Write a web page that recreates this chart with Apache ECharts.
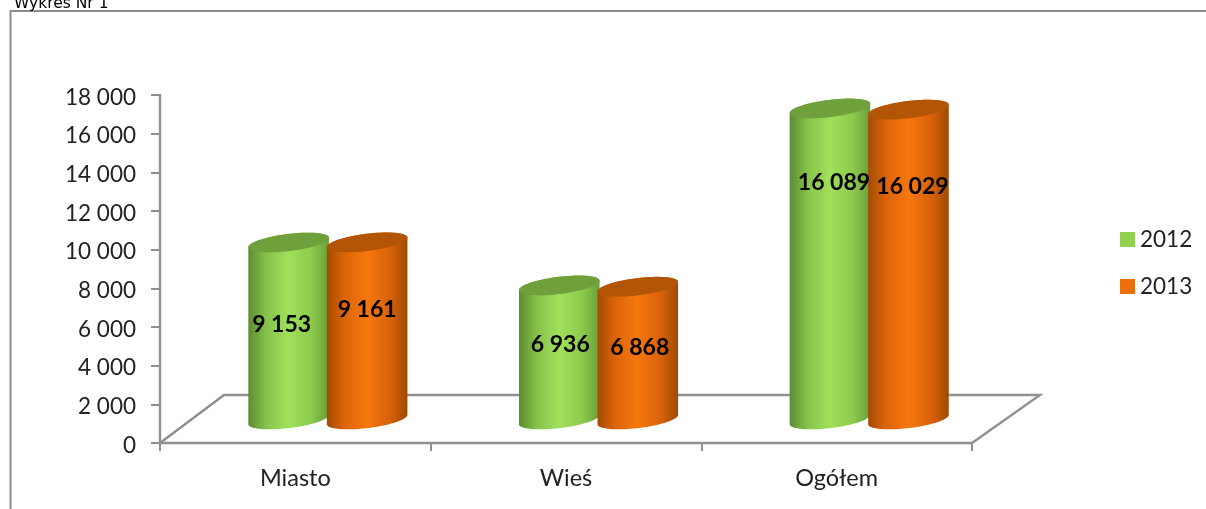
<!DOCTYPE html>
<html><head><meta charset="utf-8">
<style>html,body{margin:0;padding:0;background:#fff}#c{width:1206px;height:509px}</style>
<script src="https://cdn.jsdelivr.net/npm/echarts@6/dist/echarts.min.js"></script>
</head><body><div id="c"></div>
<script>
const categories = ['Miasto', 'Wieś', 'Ogółem'];
const seriesNames = ['2012', '2013'];
const values2012 = [9153, 6936, 16089];
const values2013 = [9161, 6868, 16029];

const FONT = 'Lato, "Open Sans", sans-serif';
const DEPTH_X = 32, DEPTH_Y = -23.5;      // projected floor offset of the bars
const fmt = v => String(v).replace(/\B(?=(\d{3})+$)/g, ' ');

const looks = {
  '2012': { swatch: '#92d14f', top: '#70a03c', side: -0.143,
    stops: ['#5d8c30', '#86c24a', '#a0e05a', '#8ccb4c', '#6a9e38'],
    labelShift: [[-7, -6], [1, -8], [4, -81]] },
  '2013': { swatch: '#ed6d0b', top: '#b25504', side: 0.147,
    stops: ['#a34c04', '#dd6409', '#f6770e', '#d9620a', '#a04a03'],
    labelShift: [[0, -21], [2, -6], [4, -78]] }
};

function ellipsePts(cx, cy, rx, ry, tilt, a0, a1, n) {
  const pts = [], c = Math.cos(tilt), s = Math.sin(tilt);
  for (let i = 0; i <= n; i++) {
    const t = a0 + (a1 - a0) * i / n;
    const ex = rx * Math.cos(t), ey = ry * Math.sin(t);
    pts.push([cx + ex * c + ey * s, cy - ex * s + ey * c]);
  }
  return pts;
}

function cylinder(look) {
  return function (params, api) {
    const p = api.coord([api.value(0), api.value(1)]);
    const base = api.coord([api.value(0), 0]);
    const band = api.size([1, 0])[0];
    const cx = p[0] + DEPTH_X + band * look.side;
    const topY = p[1] + DEPTH_Y, baseY = base[1] + DEPTH_Y;
    const rx = band * 0.15, ry = 8.6, tilt = 7 * Math.PI / 180;
    const body = ellipsePts(cx, baseY, rx, ry, tilt, 0, Math.PI, 48)
      .concat(ellipsePts(cx, topY, rx, ry, tilt, Math.PI, 2 * Math.PI, 48));
    const n = look.stops.length - 1;
    const fill = new echarts.graphic.LinearGradient(0, 0, 1, 0,
      [0, 0.22, 0.5, 0.78, 1].map((o, i) => ({ offset: o, color: look.stops[Math.min(i, n)] })));
    const shift = look.labelShift[params.dataIndex];
    return {
      type: 'group',
      children: [
        { type: 'polygon', shape: { points: body }, style: { fill: fill } },
        { type: 'polygon', shape: { points: ellipsePts(cx, topY, rx, ry, tilt, 0, 2 * Math.PI, 72) },
          style: { fill: look.top } },
        { type: 'text', z2: 10, style: {
            text: fmt(api.value(1)),
            x: cx + shift[0], y: (topY + baseY) / 2 + shift[1],
            align: 'center', verticalAlign: 'middle',
            fill: '#000', font: 'bold 23px ' + FONT } }
      ]
    };
  };
}

function barSeries(name, vals) {
  const look = looks[name];
  return {
    name: name, type: 'custom', clip: false, z: 3,
    itemStyle: { color: look.swatch },
    encode: { x: 0, y: 1 },
    data: vals.map((v, i) => [i, v]),
    renderItem: cylinder(look)
  };
}

const floorSeries = {
  name: 'floor', type: 'custom', clip: false, z: 1, silent: true,
  data: [[0, 0]],
  renderItem: function (params) {
    const g = params.coordSys, bottom = g.y + g.height, right = g.x + g.width;
    return {
      type: 'polyline',
      shape: { points: [[g.x, bottom], [g.x + 64, bottom - 48], [right + 68, bottom - 48], [right, bottom]] },
      style: { stroke: '#909090', lineWidth: 2.4, fill: null }
    };
  }
};

const chart = echarts.init(document.getElementById('c'), null, { renderer: 'canvas' });
chart.setOption({
  animation: false,
  backgroundColor: '#fff',
  title: { text: 'Wykres Nr 1', left: 9, top: -9,
    textStyle: { fontFamily: '"DejaVu Sans"', fontSize: 15.5, fontWeight: 'normal', color: '#000' } },
  graphic: [{ type: 'polyline', silent: true,
    shape: { points: [[10.5, 509], [10.5, 11], [1206, 11]] },
    style: { stroke: '#8c8c8c', lineWidth: 2, fill: null } }],
  legend: { data: seriesNames, orient: 'vertical', left: 1115, top: 223, icon: 'rect',
    itemWidth: 15, itemHeight: 15, itemGap: 24,
    textStyle: { fontFamily: FONT, fontSize: 22.5, color: '#222' } },
  grid: { left: 160, top: 95, width: 812, height: 348 },
  xAxis: { type: 'category', data: categories, boundaryGap: true,
    axisLine: { lineStyle: { color: '#909090', width: 2.4 } },
    axisTick: { show: true, length: 8, lineStyle: { color: '#909090', width: 2 } },
    axisLabel: { margin: 23, fontFamily: FONT, fontSize: 23.5, color: '#222' } },
  yAxis: { type: 'value', min: 0, max: 18000, interval: 2000,
    axisLine: { show: true, lineStyle: { color: '#909090', width: 2.4 } },
    axisTick: { show: true, length: 9, lineStyle: { color: '#909090', width: 2 } },
    splitLine: { show: false },
    axisLabel: { margin: 24, fontFamily: FONT, fontSize: 22.5, color: '#222', verticalAlign: 'top', padding: [-9, 0, 0, 0], formatter: fmt } },
  series: [floorSeries, barSeries('2012', values2012), barSeries('2013', values2013)]
});
</script></body></html>
